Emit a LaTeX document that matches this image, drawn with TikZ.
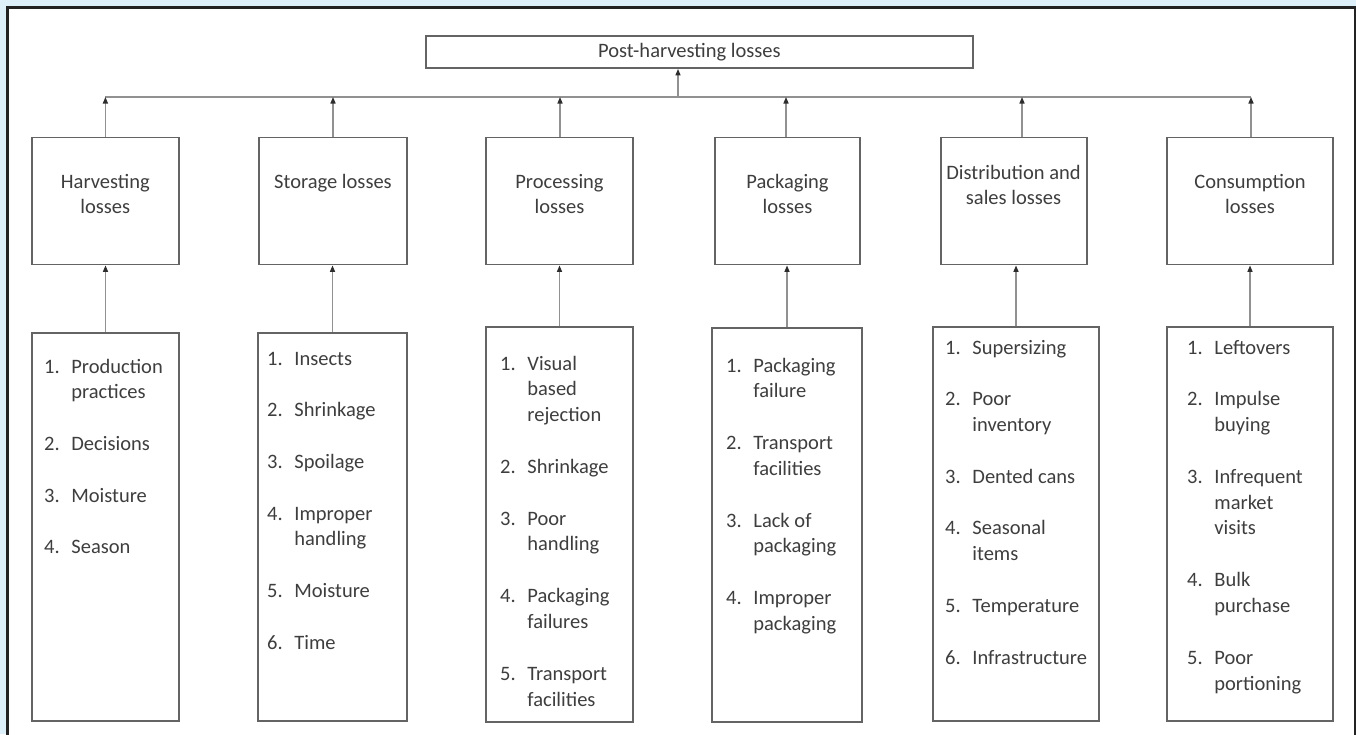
\documentclass[tikz,border=0pt]{standalone}
\usepackage{fontspec}
\setmainfont{Carlito}
\usetikzlibrary{arrows.meta}
\definecolor{bgblue}{RGB}{222,240,250}
\definecolor{framec}{RGB}{35,35,35}
\definecolor{boxc}{RGB}{100,100,100}
\definecolor{linec}{RGB}{145,145,145}
\definecolor{tipc}{RGB}{45,45,45}
\definecolor{txtc}{RGB}{62,62,62}
\newcommand\li[1]{\makebox[27.2pt][l]{#1}}
\begin{document}
\begin{tikzpicture}[x=1pt,y=-1pt,
  boxstyle/.style={draw=boxc, line width=1.8pt, fill=white, inner sep=0pt},
  lbl/.style={inner sep=0pt, text=txtc, font=\fontsize{20.5}{25.3}\selectfont},
  ltext/.style={inner sep=0pt, text=txtc, anchor=base west, font=\fontsize{20.5}{25.85}\selectfont},
  conn/.style={draw=linec, line width=1.4pt},
  arr/.style={conn, -{Triangle[length=6.5pt,width=5pt,color=tipc]}}]
\useasboundingbox (0,0) rectangle (1356,734);
% background and frame
\fill[bgblue] (0,0) rectangle (1356,734);
\fill[white] (7.5,7.5) rectangle (1355,734);
\draw[framec, line width=3pt] (7.5,735) -- (7.5,7.5) -- (1355,7.5) -- (1355,735);

% top box
\node[boxstyle, minimum width=547pt, minimum height=32pt] (top) at (699.5,52) {};
\node[lbl, anchor=base west] (toptxt) at (598,57) {Post-harvesting losses};

% category boxes
\node[boxstyle, minimum width=147.3pt, minimum height=127pt] (hc) at (105.35,201) {};
\node[boxstyle, minimum width=148pt, minimum height=127pt] (sc) at (333,201) {};
\node[boxstyle, minimum width=147pt, minimum height=127pt] (pc) at (559.5,201) {};
\node[boxstyle, minimum width=145pt, minimum height=127pt] (kc) at (787.5,201) {};
\node[boxstyle, minimum width=146pt, minimum height=127pt] (dc) at (1014,201) {};
\node[boxstyle, minimum width=166pt, minimum height=127pt] (cc) at (1250,201) {};

\node[lbl, anchor=base] (hct) at (105.35,188) {\begin{tabular}[t]{@{}c@{}}Harvesting\\losses\end{tabular}};
\node[lbl, anchor=base] (sct) at (333,188) {Storage losses};
\node[lbl, anchor=base] (pct) at (559.5,188) {\begin{tabular}[t]{@{}c@{}}Processing\\losses\end{tabular}};
\node[lbl, anchor=base] (kct) at (787.5,188) {\begin{tabular}[t]{@{}c@{}}Packaging\\losses\end{tabular}};
\node[lbl, anchor=base] (dct) at (1013.5,179) {\begin{tabular}[t]{@{}c@{}}Distribution and\\sales losses\end{tabular}};
\node[lbl, anchor=base] (cct) at (1250,188) {\begin{tabular}[t]{@{}c@{}}Consumption\\losses\end{tabular}};

% list boxes
\node[boxstyle, minimum width=147pt, minimum height=388pt] (hl) at (105.5,527) {};
\node[boxstyle, minimum width=149pt, minimum height=388pt] (sl) at (332.5,527) {};
\node[boxstyle, minimum width=147pt, minimum height=395pt] (pl) at (559.5,524.5) {};
\node[boxstyle, minimum width=150pt, minimum height=394pt] (kl) at (787,525) {};
\node[boxstyle, minimum width=166pt, minimum height=394pt] (dl) at (1016,524) {};
\node[boxstyle, minimum width=166pt, minimum height=394pt] (cl) at (1250,524) {};

\node[ltext] (hlt) at (44,373) {\begin{tabular}[t]{@{}l@{}}
\li{1.}Production\\
\li{}practices\\[25.85pt]
\li{2.}Decisions\\[25.85pt]
\li{3.}Moisture\\[25.85pt]
\li{4.}Season
\end{tabular}};

\node[ltext] (slt) at (267,365) {\begin{tabular}[t]{@{}l@{}}
\li{1.}Insects\\[25.85pt]
\li{2.}Shrinkage\\[25.85pt]
\li{3.}Spoilage\\[25.85pt]
\li{4.}Improper\\
\li{}handling\\[25.85pt]
\li{5.}Moisture\\[25.85pt]
\li{6.}Time
\end{tabular}};

\node[ltext] (plt) at (500,370) {\begin{tabular}[t]{@{}l@{}}
\li{1.}Visual\\
\li{}based\\
\li{}rejection\\[25.85pt]
\li{2.}Shrinkage\\[25.85pt]
\li{3.}Poor\\
\li{}handling\\[25.85pt]
\li{4.}Packaging\\
\li{}failures\\[25.85pt]
\li{5.}Transport\\
\li{}facilities
\end{tabular}};

\node[ltext] (klt) at (726,372) {\begin{tabular}[t]{@{}l@{}}
\li{1.}Packaging\\
\li{}failure\\[25.85pt]
\li{2.}Transport\\
\li{}facilities\\[25.85pt]
\li{3.}Lack of\\
\li{}packaging\\[25.85pt]
\li{4.}Improper\\
\li{}packaging
\end{tabular}};

\node[ltext] (dlt) at (945,354) {\begin{tabular}[t]{@{}l@{}}
\li{1.}Supersizing\\[25.85pt]
\li{2.}Poor\\
\li{}inventory\\[25.85pt]
\li{3.}Dented cans\\[25.85pt]
\li{4.}Seasonal\\
\li{}items\\[25.85pt]
\li{5.}Temperature\\[25.85pt]
\li{6.}Infrastructure
\end{tabular}};

\node[ltext] (clt) at (1187,354) {\begin{tabular}[t]{@{}l@{}}
\li{1.}Leftovers\\[25.85pt]
\li{2.}Impulse\\
\li{}buying\\[25.85pt]
\li{3.}Infrequent\\
\li{}market\\
\li{}visits\\[25.85pt]
\li{4.}Bulk\\
\li{}purchase\\[25.85pt]
\li{5.}Poor\\
\li{}portioning
\end{tabular}};

% bus
\coordinate (b1) at (105.4,97);
\coordinate (b2) at (333,97);
\coordinate (b3) at (560,97);
\coordinate (b4) at (786,97);
\coordinate (b5) at (1022,97);
\coordinate (b6) at (1251,97);
\coordinate (bt) at (678,97);
\draw[conn] (b1) -- (b6);
\draw[arr] (bt) -- (bt |- top.south);

\draw[arr] (b1 |- hc.north) -- (b1);
\draw[arr] (b2 |- sc.north) -- (b2);
\draw[arr] (b3 |- pc.north) -- (b3);
\draw[arr] (b4 |- kc.north) -- (b4);
\draw[arr] (b5 |- dc.north) -- (b5);
\draw[arr] (b6 |- cc.north) -- (b6);

\draw[arr] (hl.north) -- (hl.north |- hc.south);
\draw[arr] (sl.north) -- (sl.north |- sc.south);
\draw[arr] (pl.north) -- (pl.north |- pc.south);
\draw[arr] (kl.north) -- (kl.north |- kc.south);
\draw[arr] (dl.north) -- (dl.north |- dc.south);
\draw[arr] (cl.north) -- (cl.north |- cc.south);
\end{tikzpicture}
\end{document}
